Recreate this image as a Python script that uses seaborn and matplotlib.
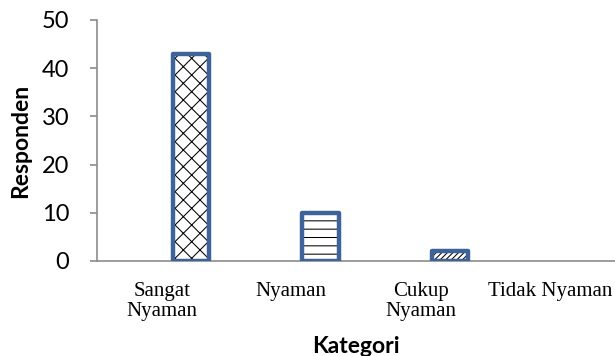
import matplotlib
matplotlib.use("Agg")
import matplotlib.pyplot as plt
from matplotlib.patches import Rectangle
import seaborn as sns
import pandas as pd

# Survey result: comfort category vs number of respondents
categories = ["Sangat\nNyaman", "Nyaman", "Cukup\nNyaman", "Tidak Nyaman"]
responden = [43, 10, 2, 0]
hatches = ["xx", "--", "//////", ""]

sns.set_theme(style="white")
plt.rcParams["hatch.linewidth"] = 0.75
plt.rcParams["hatch.color"] = "black"

df = pd.DataFrame({"Kategori": categories, "Responden": responden})

fig = plt.figure(figsize=(6.15, 3.56), dpi=100)
ax = fig.add_axes([0.158, 0.267, 0.842, 0.677])

outline = "#3E6399"
# hatched fill: black hatch lines, no border (border added on top below)
sns.barplot(data=df, x="Kategori", y="Responden", color="white",
            edgecolor="black", linewidth=0, width=0.28, ax=ax,
            saturation=1)

shift = 0.225
bars = list(ax.patches)
for patch, h in zip(bars, hatches):
    patch.set_x(patch.get_x() + shift)
    patch.set_hatch(h)
    if patch.get_height() == 0:
        patch.set_visible(False)
        continue
    ax.add_patch(Rectangle((patch.get_x(), patch.get_y()),
                           patch.get_width(), patch.get_height(),
                           fill=False, edgecolor=outline, linewidth=3.2,
                           joinstyle="round", zorder=3))

ax.set_xlim(-0.5, 3.5)
ax.set_ylim(0, 50)
ax.set_yticks(range(0, 51, 10))

grey = "#8C8C8C"
for side in ["top", "right"]:
    ax.spines[side].set_visible(False)
for side in ["left", "bottom"]:
    ax.spines[side].set_color(grey)
    ax.spines[side].set_linewidth(1.2)

# category boundary ticks on x, labels centred in each slot
ax.set_xticks([i - 0.5 for i in range(len(categories))], minor=True)
ax.tick_params(axis="x", which="minor", direction="out", length=5,
               color=grey, width=1.2)
ax.tick_params(axis="x", which="major", length=0, pad=15)
ax.tick_params(axis="y", which="major", direction="out", length=5,
               color=grey, width=1.2, pad=15, left=True)

ax.set_xticks(range(len(categories)))
ax.set_xticklabels(categories, family="Liberation Serif", fontsize=15,
                   linespacing=1.1, color="black")
for t in ax.get_yticklabels():
    t.set_family("Lato")
    t.set_fontsize(17)
    t.set_color("black")

ax.set_xlabel("Kategori", family="Lato", fontweight="bold", fontsize=16.5,
              color="black", labelpad=11)
ax.set_ylabel("Responden", family="Lato", fontweight="bold", fontsize=16.5,
              color="black", labelpad=8)

fig.savefig("out.png", dpi=100)
